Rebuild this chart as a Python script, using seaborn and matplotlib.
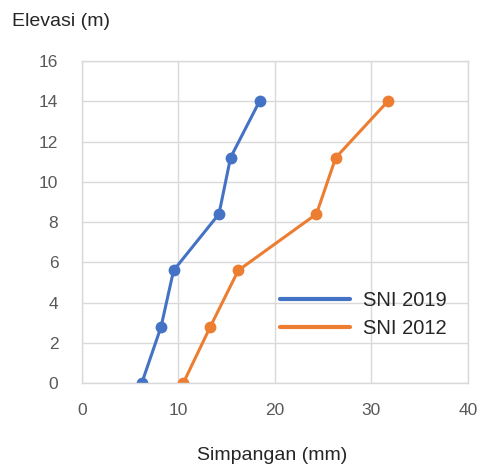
import pandas as pd
import matplotlib.pyplot as plt
import seaborn as sns

elevasi = [0, 2.8, 5.6, 8.4, 11.2, 14]
sni_2019 = [6.2, 8.2, 9.5, 14.2, 15.4, 18.4]
sni_2012 = [10.5, 13.3, 16.2, 24.3, 26.3, 31.7]
seri = ['SNI 2019', 'SNI 2012']
warna = {'SNI 2019': '#4472C4', 'SNI 2012': '#ED7D31'}

df = pd.DataFrame({
    'Simpangan': sni_2019 + sni_2012,
    'Elevasi': elevasi * 2,
    'Seri': [seri[0]] * len(elevasi) + [seri[1]] * len(elevasi),
})

sns.set_style('white')
plt.rcParams['font.family'] = ['Liberation Sans', 'DejaVu Sans']

fig = plt.figure(figsize=(4.79, 4.69), dpi=100)
ax = fig.add_axes([0.171, 0.183, 0.806, 0.687])

sns.lineplot(data=df, x='Simpangan', y='Elevasi', hue='Seri', palette=warna,
             marker='o', markersize=8.5, markeredgewidth=0, linewidth=2.2,
             sort=False, ax=ax)

ax.set_xlim(0, 40)
ax.set_ylim(0, 16)
ax.set_xticks(range(0, 41, 10))
ax.set_yticks(range(0, 17, 2))
ax.grid(True, color='#d9d9d9', linewidth=1)
for s in ax.spines.values():
    s.set_color('#d9d9d9')
    s.set_linewidth(1)
ax.tick_params(axis='both', length=0, labelsize=12.5, colors='#595959')
ax.tick_params(axis='x', pad=14)
ax.tick_params(axis='y', pad=17)
ax.set_xlabel('Simpangan (mm)', fontsize=14, color='#262626', va='center')
ax.xaxis.set_label_coords(0.492, -0.224)
ax.set_ylabel('')
fig.text(0.025, 0.955, 'Elevasi (m)', fontsize=14, color='#262626', ha='left', va='center')

leg = ax.legend(loc='upper left', bbox_to_anchor=(0.513, 0.285), frameon=False,
                borderpad=0, borderaxespad=0,
                fontsize=14.5, handlelength=3.5, handletextpad=0.6, labelspacing=0.45)
for h in leg.legend_handles:
    h.set_marker('')
    h.set_linewidth(3)
for t in leg.get_texts():
    t.set_color('#262626')

fig.savefig('out.png', dpi=100)
